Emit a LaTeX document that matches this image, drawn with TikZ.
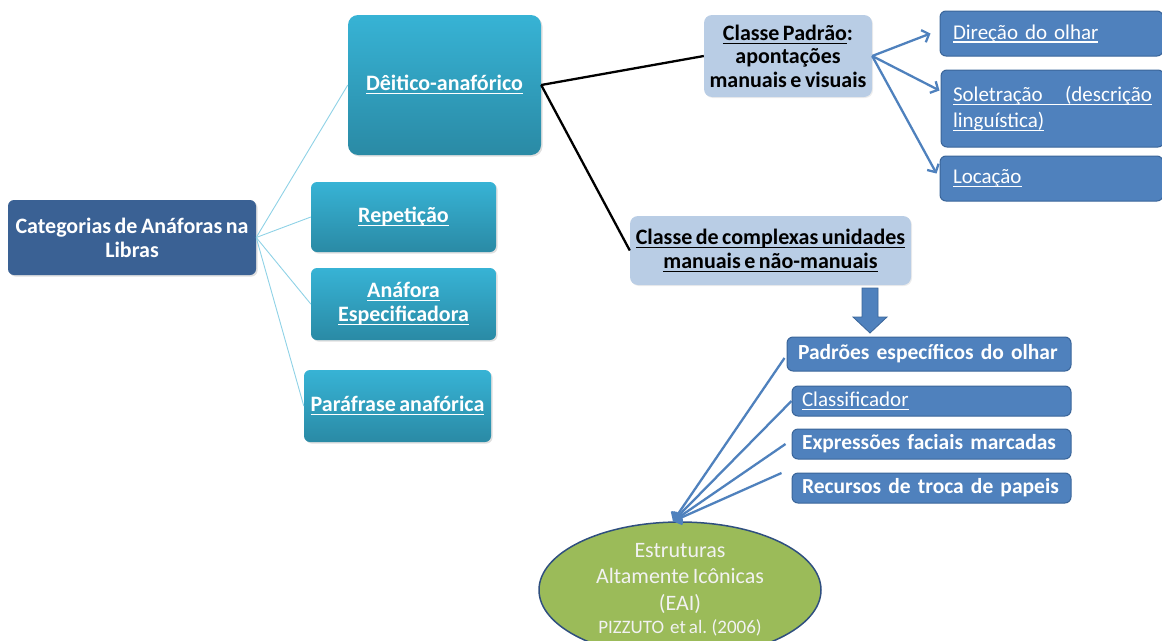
\documentclass[tikz,border=0pt]{standalone}
\usepackage{fontspec}
\setmainfont{Carlito}[WordSpace=0.7]
\newfontfamily\plainspace{Carlito}
\usetikzlibrary{arrows.meta,shapes.geometric,shadows,calc}
\definecolor{tealtop}{HTML}{37B3D5}
\definecolor{tealbot}{HTML}{2A8AA5}
\definecolor{navybox}{HTML}{3A6194}
\definecolor{midblue}{HTML}{4F81BD}
\definecolor{edgeblue}{HTML}{3A6599}
\definecolor{lightbox}{HTML}{B9CDE5}
\definecolor{linkblue}{HTML}{8FD2E6}
\definecolor{greenfill}{HTML}{9BBB59}
\definecolor{ellipseedge}{HTML}{2F4F7F}
\newcommand\myul[1]{\leavevmode\setbox0\hbox{#1}\rlap{\rule[-3.5pt]{\wd0}{1.1pt}}\box0}
\tikzset{
  basebox/.style={rounded corners=6pt, inner sep=0pt, align=center,
    font=\fontsize{22}{24}\selectfont\bfseries},
  shadowed/.style={drop shadow={opacity=0.25, shadow xshift=1.5pt, shadow yshift=-1.5pt}},
  tealbox/.style={basebox, shadowed, top color=tealtop, bottom color=tealbot, text=white},
  rootbox/.style={basebox, shadowed, fill=navybox, text=white},
  lightnode/.style={basebox, rounded corners=8pt, fill=lightbox, text=black,
    drop shadow={opacity=0.15, shadow xshift=1pt, shadow yshift=-1pt}},
  rightbox/.style={basebox, fill=midblue, draw=edgeblue, line width=1pt, text=white,
    align=left, font=\plainspace\fontsize{21}{26}\selectfont},
  listbox/.style={basebox, fill=midblue, draw=edgeblue, line width=1pt, text=white,
    align=left, font=\fontsize{21.5}{24}\selectfont\bfseries},
  linkline/.style={draw=linkblue, line width=0.9pt},
  blackline/.style={draw=black, line width=2.3pt},
  bluearrow/.style={draw=midblue, line width=2.3pt, -{Straight Barb[length=6pt,width=13pt]}},
}
\begin{document}
\begin{tikzpicture}[x=1pt,y=-1pt]
\useasboundingbox (0,0) rectangle (1162,640);

% left column
\node[rootbox, minimum width=248pt, minimum height=75pt] (root) at (132,237.5)
  {Categorias de Anáforas na\\Libras};
\node[tealbox, rounded corners=10pt, minimum width=193pt, minimum height=140pt] (deitico) at (444.5,85)
  {\myul{Dêitico-anafórico}};
\node[tealbox, minimum width=185pt, minimum height=70pt] (repet) at (403.5,217)
  {\myul{Repetição}};
\node[tealbox, minimum width=185pt, minimum height=72pt] (especif) at (403.5,304)
  {\myul{Anáfora}\\\myul{Especificadora}};
\node[tealbox, minimum width=187pt, minimum height=72pt] (parafr) at (397.5,406)
  {\myul{Paráfrase anafórica}};

\draw[linkline] (root.east) -- (deitico.west);
\draw[linkline] (root.east) -- (repet.west);
\draw[linkline] (root.east) -- (especif.west);
\draw[linkline] (root.east) -- (parafr.west);

% middle
\node[lightnode, minimum width=168pt, minimum height=82pt, font=\fontsize{22}{23.5}\selectfont\bfseries] (padrao) at (788,56)
  {\myul{Classe Padrão}:\\apontações\\manuais e visuais};
\node[lightnode, minimum width=281pt, minimum height=69pt] (complexas) at (770.5,250.5)
  {\myul{Classe de complexas unidades}\\\myul{manuais e não-manuais}};

\draw[blackline] (deitico.east) -- (padrao.west);
\draw[blackline] (deitico.east) -- (complexas.west);

% right column
\node[rightbox, minimum width=223pt, minimum height=45pt, text width=197pt] (direcao) at (1051.5,33.5)
  {\myul{Direção do olhar}};
\node[rightbox, minimum width=223pt, minimum height=77pt, text width=199pt] (solet) at (1052.5,108.5)
  {\myul{\hbox to 199pt{Soletração\hfill(descrição}}\\\myul{linguística)}};
\node[rightbox, minimum width=223pt, minimum height=45pt, text width=197pt] (locacao) at (1051.5,178.5)
  {\myul{Locação}};

\draw[bluearrow] (padrao.east) -- ([xshift=-9pt]direcao.west);
\draw[bluearrow] (padrao.east) -- ([shift={(-1,-18)}]solet.west);
\draw[bluearrow] (padrao.east) -- ([shift={(-3,-5)}]locacao.west);

% block arrow
\filldraw[fill=midblue, draw=edgeblue, line width=0.8pt]
  (862,288) -- (878,288) -- (878,317) -- (887,317) -- (870,333) -- (853,317) -- (862,317) -- cycle;

% list boxes
\node[listbox, minimum width=284pt, minimum height=34pt, text width=262pt] (padroes) at (929,354)
  {Padrões específicos do olhar};
\node[listbox, minimum width=279pt, minimum height=30pt, text width=259pt, font=\plainspace\fontsize{21}{24}\selectfont] (classif) at (931.5,401)
  {\myul{Classificador}};
\node[listbox, minimum width=279pt, minimum height=30pt, text width=259pt] (express) at (931.5,444)
  {Expressões faciais marcadas};
\node[listbox, minimum width=279pt, minimum height=30pt, text width=259pt] (recursos) at (931.5,488)
  {Recursos de troca de papeis};

% ellipse
\node[ellipse, fill=greenfill, draw=ellipseedge, line width=1.5pt, minimum width=282pt, minimum height=136pt,
  inner sep=0pt, align=center, text=white!95!black, font=\fontsize{22}{26.5}\selectfont] (eai) at (680,590)
  {Estruturas\\Altamente Icônicas\\(EAI)\\[-3pt]{\fontsize{19}{20}\selectfont PIZZUTO\ \ et al. (2006)}};

\draw[bluearrow] ([shift={(-2,4)}]padroes.west) -- ([xshift=-7pt]eai.north);
\draw[bluearrow] (classif.west) -- ([xshift=-7pt]eai.north);
\draw[bluearrow] ([xshift=-6pt]express.west) -- ([xshift=-7pt]eai.north);
\draw[bluearrow] ([shift={(-10,-15)}]recursos.west) -- ([xshift=-7pt]eai.north);
\end{tikzpicture}
\end{document}
